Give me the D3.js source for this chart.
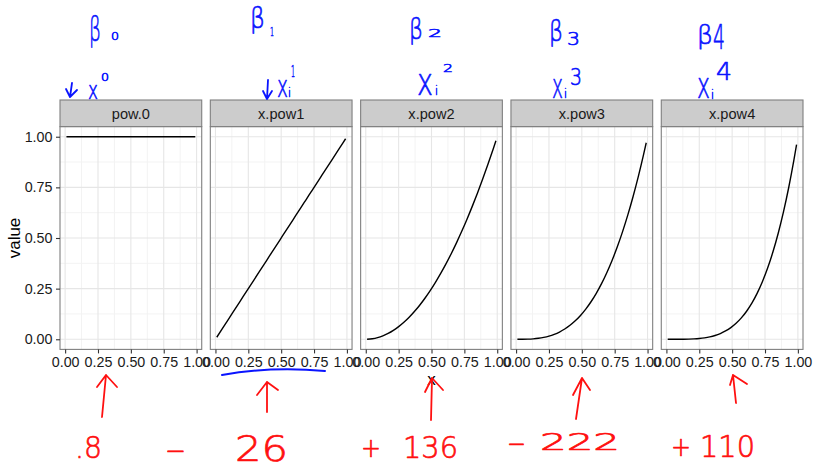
<!DOCTYPE html>
<html>
<head>
<meta charset="utf-8">
<script src="https://cdn.jsdelivr.net/npm/d3@7"></script>
<style>
  body { margin: 0; background: #ffffff; }
  svg { display: block; }
</style>
</head>
<body>
<svg id="chart" width="813" height="463"></svg>
<script>
// ---- data -------------------------------------------------------------
const facetLabels = ["pow.0", "x.pow1", "x.pow2", "x.pow3", "x.pow4"];

const xValues = [0.01, 0.05, 0.09, 0.13, 0.17, 0.21, 0.25, 0.29, 0.33, 0.37, 0.41, 0.45, 0.49,
                 0.53, 0.57, 0.61, 0.65, 0.69, 0.73, 0.77, 0.81, 0.85, 0.89, 0.93, 0.97, 0.99];

const pow0 = [1, 1, 1, 1, 1, 1, 1, 1, 1, 1, 1, 1, 1, 1, 1, 1, 1, 1, 1, 1, 1, 1, 1, 1, 1, 1];
const pow1 = [0.01, 0.05, 0.09, 0.13, 0.17, 0.21, 0.25, 0.29, 0.33, 0.37, 0.41, 0.45, 0.49,
              0.53, 0.57, 0.61, 0.65, 0.69, 0.73, 0.77, 0.81, 0.85, 0.89, 0.93, 0.97, 0.99];
const pow2 = [0.0001, 0.0025, 0.0081, 0.0169, 0.0289, 0.0441, 0.0625, 0.0841, 0.1089, 0.1369,
              0.1681, 0.2025, 0.2401, 0.2809, 0.3249, 0.3721, 0.4225, 0.4761, 0.5329, 0.5929,
              0.6561, 0.7225, 0.7921, 0.8649, 0.9409, 0.9801];
const pow3 = [0.0000, 0.0001, 0.0007, 0.0022, 0.0049, 0.0093, 0.0156, 0.0244, 0.0359, 0.0507,
              0.0689, 0.0911, 0.1176, 0.1489, 0.1852, 0.2270, 0.2746, 0.3285, 0.3890, 0.4565,
              0.5314, 0.6141, 0.7050, 0.8044, 0.9127, 0.9703];
const pow4 = [0.0000, 0.0000, 0.0001, 0.0003, 0.0008, 0.0019, 0.0039, 0.0071, 0.0119, 0.0187,
              0.0283, 0.0410, 0.0576, 0.0789, 0.1056, 0.1385, 0.1785, 0.2267, 0.2840, 0.3515,
              0.4305, 0.5220, 0.6274, 0.7481, 0.8853, 0.9606];
const seriesValues = [pow0, pow1, pow2, pow3, pow4];

const xTicks = [0, 0.25, 0.5, 0.75, 1];
const yTicks = [0, 0.25, 0.5, 0.75, 1];
const xMinor = [0.125, 0.375, 0.625, 0.875];
const yMinor = [0.125, 0.375, 0.625, 0.875];

// handwritten notes
const betaSubscripts = ["0", "1", "2", "3", "4"];
const powerSuperscripts = ["0", "1", "2", "3", "4"];
const coefSigns = ["", "\u2212", "+", "\u2212", "+"];
const coefNumbers = [".8", "26", "136", "222", "110"];

// ---- layout -----------------------------------------------------------
const svg = d3.select("#chart");
const plotTop = 126.6, plotBottom = 349.4, stripTop = 100;
const font = "'Liberation Sans', Arial, Helvetica, sans-serif";
const inkFont = "'DejaVu Sans', sans-serif";
const tickSize = 14.3;

const panel = d3.scaleBand().domain(facetLabels).range([60, 803]).paddingInner(0.0572).paddingOuter(0);
const bw = panel.bandwidth();
const x = d3.scaleLinear().domain([-0.039, 1.039]).range([0, bw]);
const y = d3.scaleLinear().domain([-0.05, 1.05]).range([plotBottom, plotTop]);
const fmt = d3.format(".2f");

const line = d3.line()
  .x((d, i) => x(xValues[i]))
  .y(d => y(d))
  .curve(d3.curveMonotoneX);

facetLabels.forEach((label, k) => {
  const g = svg.append("g").attr("transform", `translate(${panel(label)},0)`);

  g.append("rect").attr("x", 0).attr("y", plotTop).attr("width", bw).attr("height", plotBottom - plotTop)
    .attr("fill", "#ffffff");

  // minor grid
  g.selectAll(".vmin").data(xMinor).join("line")
    .attr("x1", d => x(d)).attr("x2", d => x(d)).attr("y1", plotTop).attr("y2", plotBottom)
    .attr("stroke", "#f3f3f3").attr("stroke-width", 1);
  g.selectAll(".hmin").data(yMinor).join("line")
    .attr("x1", 0).attr("x2", bw).attr("y1", d => y(d)).attr("y2", d => y(d))
    .attr("stroke", "#f3f3f3").attr("stroke-width", 1);
  // major grid
  g.selectAll(".vmaj").data(xTicks).join("line")
    .attr("x1", d => x(d)).attr("x2", d => x(d)).attr("y1", plotTop).attr("y2", plotBottom)
    .attr("stroke", "#e6e6e6").attr("stroke-width", 1.1);
  g.selectAll(".hmaj").data(yTicks).join("line")
    .attr("x1", 0).attr("x2", bw).attr("y1", d => y(d)).attr("y2", d => y(d))
    .attr("stroke", "#e6e6e6").attr("stroke-width", 1.1);

  g.append("path").datum(seriesValues[k]).attr("d", line)
    .attr("fill", "none").attr("stroke", "#000000").attr("stroke-width", 1.4);

  g.append("rect").attr("x", 0).attr("y", plotTop).attr("width", bw).attr("height", plotBottom - plotTop)
    .attr("fill", "none").attr("stroke", "#7f7f7f").attr("stroke-width", 1.1);

  // strip
  g.append("rect").attr("x", 0).attr("y", stripTop).attr("width", bw).attr("height", plotTop - stripTop)
    .attr("fill", "#cccccc").attr("stroke", "#7f7f7f").attr("stroke-width", 1.1);
  g.append("text").attr("x", bw / 2).attr("y", (stripTop + plotTop) / 2).attr("dy", "0.36em")
    .attr("text-anchor", "middle").attr("font-family", font).attr("font-size", 14.6)
    .attr("fill", "#1a1a1a").text(label);

  // x axis
  const ax = g.append("g").attr("transform", `translate(0,${plotBottom})`)
    .call(d3.axisBottom(x).tickValues(xTicks).tickFormat(fmt).tickSize(4).tickPadding(3.5));
  ax.select(".domain").remove();
  ax.selectAll(".tick line").attr("stroke", "#333333").attr("stroke-width", 1.1);
  ax.selectAll(".tick text").attr("font-family", font).attr("font-size", tickSize).attr("fill", "#1a1a1a");
});

// y axis
const ay = svg.append("g").attr("transform", `translate(${panel(facetLabels[0])},0)`)
  .call(d3.axisLeft(y).tickValues(yTicks).tickFormat(fmt).tickSize(4).tickPadding(3.5));
ay.select(".domain").remove();
ay.selectAll(".tick line").attr("stroke", "#333333").attr("stroke-width", 1.1);
ay.selectAll(".tick text").attr("font-family", font).attr("font-size", tickSize).attr("fill", "#1a1a1a");

// axis titles
svg.append("text").attr("transform", `translate(19.5,${(plotTop + plotBottom) / 2}) rotate(-90)`)
  .attr("text-anchor", "middle").attr("font-family", font).attr("font-size", 17)
  .attr("fill", "#000000").text("value");
svg.append("text").attr("x", 431.5).attr("y", 385).attr("text-anchor", "middle")
  .attr("font-family", font).attr("font-size", 17).attr("fill", "#000000").text("x");

// ---- pen notes --------------------------------------------------------
const blue = "#0a14ff", red = "#ff1010";
const ink = svg.append("g").attr("font-family", inkFont).attr("font-weight", 200);

function inkText(str, left, baseline, size, width, color) {
  return ink.append("text").attr("x", left).attr("y", baseline).attr("font-size", size)
    .attr("textLength", width).attr("lengthAdjust", "spacingAndGlyphs")
    .attr("fill", color).attr("stroke", color).attr("stroke-width", 0.7)
    .attr("stroke-linejoin", "round").text(str);
}
function inkPath(d, color, w) {
  return ink.append("path").attr("d", d).attr("fill", "none").attr("stroke", color)
    .attr("stroke-width", w || 1.8).attr("stroke-linecap", "round").attr("stroke-linejoin", "round");
}

// beta coefficients above each facet
const betaGlyphs = [
  { left: 89, base: 41, size: 34, w: 12, sub: { left: 111, base: 40, size: 11, w: 8 } },
  { left: 250, base: 28, size: 28, w: 15, sub: { left: 270, base: 36, size: 12, w: 4 } },
  { left: 409, base: 39, size: 29, w: 14, sub: { left: 428, base: 37, size: 11, w: 14 } },
  { left: 549, base: 41, size: 28, w: 14, sub: { left: 567, base: 45, size: 18, w: 13 } },
  { left: 697, base: 44, size: 26, w: 16, sub: { left: 713, base: 49, size: 34, w: 12 } }
];
betaGlyphs.forEach((b, k) => {
  inkText("\u03b2", b.left, b.base, b.size, b.w, blue);
  inkText(betaSubscripts[k], b.sub.left, b.sub.base, b.sub.size, b.sub.w, blue);
});

// x_i^p power labels above each strip
const powerGlyphs = [
  { left: 88, base: 99, size: 24, w: 10, i: null, sup: { left: 101, base: 81, size: 10, w: 8 } },
  { left: 277, base: 97, size: 31, w: 11, i: { left: 288, base: 97, size: 13 }, sup: { left: 291, base: 77, size: 15, w: 4 } },
  { left: 417, base: 95, size: 38, w: 16, i: { left: 435, base: 95, size: 13 }, sup: { left: 443, base: 72, size: 11, w: 10 } },
  { left: 552, base: 98, size: 33, w: 11, i: { left: 564, base: 98, size: 13 }, sup: { left: 570, base: 85, size: 23, w: 12 } },
  { left: 697, base: 98, size: 36, w: 13, i: { left: 711, base: 99, size: 13 }, sup: { left: 716, base: 80, size: 25, w: 16 } }
];
powerGlyphs.forEach((p, k) => {
  inkText("x", p.left, p.base, p.size, p.w, blue);
  if (p.i) inkText("i", p.i.left, p.i.base, p.i.size, 3, blue);
  inkText(powerSuperscripts[k], p.sup.left, p.sup.base, p.sup.size, p.sup.w, blue);
});

// small down arrows and the underline
inkPath("M72,83 L70,97 M66,89 L70,97 L77,90", blue);
inkPath("M268,80 L267,99 M263,91 L267,99 L272,91", blue);
inkPath("M222,375 Q272,366 325,371", blue, 2);

// red arrows under each facet
const arrowMarks = [
  { bx: 102, by: 417, tx: 106, ty: 375, lx: 97, ly: 387, rx: 117, ry: 387 },
  { bx: 267, by: 412, tx: 267, ty: 382, lx: 257, ly: 395, rx: 278, ry: 390 },
  { bx: 431, by: 420, tx: 432, ty: 378, lx: 425, ly: 392, rx: 443, ry: 390 },
  { bx: 576, by: 419, tx: 582, ty: 378, lx: 573, ly: 395, rx: 590, ry: 390 },
  { bx: 736, by: 403, tx: 733, ty: 375, lx: 730, ly: 385, rx: 747, ry: 384 }
];
arrowMarks.forEach(a => {
  inkPath(`M${a.bx},${a.by} L${a.tx},${a.ty} M${a.lx},${a.ly} L${a.tx},${a.ty} L${a.rx},${a.ry}`, red);
});

// red coefficient values
const signGlyphs = [null,
  { left: 165, base: 460, size: 28, w: 21 },
  { left: 361, base: 457, size: 27, w: 20 },
  { left: 507, base: 453, size: 28, w: 19 },
  { left: 671, base: 456, size: 27, w: 20 }];
const numberGlyphs = [
  { left: 75, base: 458, size: 31, w: 27 },
  { left: 235, base: 461, size: 36, w: 53 },
  { left: 403, base: 458, size: 31, w: 55 },
  { left: 540, base: 450, size: 23, w: 80 },
  { left: 700, base: 457, size: 30, w: 55 }];
coefNumbers.forEach((num, k) => {
  const s = signGlyphs[k];
  if (s) inkText(coefSigns[k], s.left, s.base, s.size, s.w, red);
  const n = numberGlyphs[k];
  inkText(num, n.left, n.base, n.size, n.w, red);
});
</script>
</body>
</html>
